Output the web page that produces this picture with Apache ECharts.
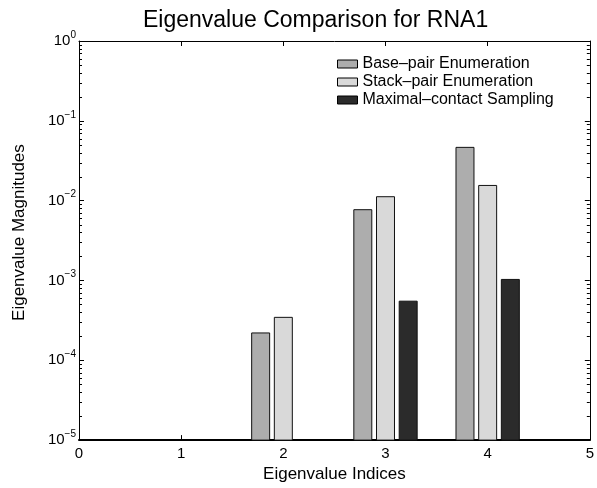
<!DOCTYPE html>
<html>
<head>
<meta charset="utf-8">
<style>
  html, body { margin: 0; padding: 0; background: #fff; }
  #chart { width: 597px; height: 488px; }
</style>
<script src="https://cdn.jsdelivr.net/npm/echarts@6/dist/echarts.min.js"></script>
</head>
<body>
<div id="chart"></div>
<script>
// Eigenvalue indices and magnitudes for each method (null = nothing to draw on the log scale)
const indices = [1, 2, 3, 4];
const basePair = [null, 2.2e-4, 7.7e-3, 4.65e-2];
const stackPair = [null, 3.45e-4, 1.12e-2, 1.55e-2];
const maxContact = [null, null, 5.5e-4, 1.03e-3];

const seriesNames = ['Base–pair Enumeration', 'Stack–pair Enumeration', 'Maximal–contact Sampling'];
const seriesColors = ['#adadad', '#d9d9d9', '#2b2b2b'];

const X_MIN = 0, X_MAX = 5, X_STEP = 1;
const Y_MIN = 1e-5, Y_MAX = 1;

// minor ticks at 2..9 within each decade
const yMinorTicks = [];
for (let d = -5; d < 0; d++) {
  for (let m = 2; m <= 9; m++) yMinorTicks.push(m * Math.pow(10, d));
}

// grouped-bar layout, as fractions of one index unit
const GROUP_STEP = 0.222;
const BAR_FRAC = 0.176;
const MINOR_LEN = 3;

const FONT = '"Liberation Sans", Arial, Helvetica, sans-serif';

function barRenderer(k) {
  return function (params, api) {
    const x = api.value(0);
    const v = api.value(1);
    const unit = api.size([1, 0], [x, v])[0];
    const top = api.coord([x, v]);
    const base = api.coord([x, Y_MIN]);
    const w = BAR_FRAC * unit;
    const cx = top[0] + (k - 1) * GROUP_STEP * unit;
    return {
      type: 'rect',
      shape: { x: cx - w / 2, y: top[1], width: w, height: base[1] - top[1] },
      style: { fill: seriesColors[k], stroke: '#111', lineWidth: 1 }
    };
  };
}

// short inward marks on both vertical sides of the plot box for the minor log ticks
function minorTickRenderer(params, api) {
  const v = api.value(1);
  const left = api.coord([X_MIN, v]);
  const right = api.coord([X_MAX, v]);
  const y = Math.round(left[1]) + 0.5;
  return {
    type: 'group',
    children: [
      { type: 'line', shape: { x1: left[0], y1: y, x2: left[0] + MINOR_LEN, y2: y }, style: { stroke: '#000', lineWidth: 1 } },
      { type: 'line', shape: { x1: right[0], y1: y, x2: right[0] - MINOR_LEN, y2: y }, style: { stroke: '#000', lineWidth: 1 } }
    ]
  };
}

function seriesData(values) {
  const out = [];
  indices.forEach((idx, i) => { if (values[i] != null) out.push([idx, values[i]]); });
  return out;
}

function expLabel(v) {
  const e = Math.round(Math.log10(v));
  return '{b|10}{e|' + (e === 0 ? '0' : '\u2212' + (-e)) + '}';
}

const chart = echarts.init(document.getElementById('chart'), null, { renderer: 'canvas' });

const barSeries = [basePair, stackPair, maxContact].map((vals, k) => ({
  name: seriesNames[k],
  type: 'custom',
  xAxisIndex: 0,
  yAxisIndex: 0,
  itemStyle: { color: seriesColors[k], borderColor: '#000', borderWidth: 1 },
  renderItem: barRenderer(k),
  encode: { x: 0, y: 1 },
  data: seriesData(vals)
}));

chart.setOption({
  animation: false,
  backgroundColor: '#fff',
  title: {
    text: 'Eigenvalue Comparison for RNA1',
    left: 143,
    top: 9,
    padding: 0,
    textStyle: { fontFamily: FONT, fontSize: 23, fontWeight: 'normal', color: '#000' }
  },
  legend: {
    orient: 'vertical',
    left: 337,
    top: 56,
    padding: 0,
    itemWidth: 20,
    itemHeight: 8,
    itemGap: 2,
    icon: 'rect',
    selectedMode: false,
    itemStyle: { borderColor: '#000', borderWidth: 1 },
    textStyle: { fontFamily: FONT, fontSize: 16, lineHeight: 16, color: '#000' },
    data: seriesNames
  },
  grid: { left: 79, right: 6, top: 41, bottom: 43, containLabel: false },
  xAxis: [
    {
      type: 'value', min: X_MIN, max: X_MAX, interval: X_STEP, position: 'bottom',
      name: 'Eigenvalue Indices', nameLocation: 'middle', nameGap: 25,
      nameTextStyle: { fontFamily: FONT, fontSize: 17, color: '#000' },
      axisLine: { show: true, onZero: false, lineStyle: { color: '#000', width: 2 } },
      axisTick: { show: true, inside: true, length: 5, lineStyle: { color: '#000', width: 1 } },
      axisLabel: { fontFamily: FONT, fontSize: 15, color: '#000', margin: 6 },
      splitLine: { show: false }
    },
    {
      type: 'value', min: X_MIN, max: X_MAX, interval: X_STEP, position: 'top',
      axisLine: { show: true, onZero: false, lineStyle: { color: '#000', width: 1 } },
      axisTick: { show: true, inside: true, length: 5, lineStyle: { color: '#000', width: 1 } },
      axisLabel: { show: false },
      splitLine: { show: false }
    }
  ],
  yAxis: [
    {
      type: 'log', logBase: 10, min: Y_MIN, max: Y_MAX, position: 'left',
      name: 'Eigenvalue Magnitudes', nameLocation: 'middle', nameGap: 51, nameRotate: 90,
      nameTextStyle: { fontFamily: FONT, fontSize: 17, color: '#000', padding: [0, 0, 0, 16] },
      axisLine: { show: true, onZero: false, lineStyle: { color: '#000', width: 1 } },
      axisTick: { show: true, inside: true, length: 5, lineStyle: { color: '#000', width: 1 } },
      axisLabel: {
        margin: 3,
        formatter: expLabel,
        rich: {
          b: { fontFamily: FONT, fontSize: 15, color: '#000', lineHeight: 22, verticalAlign: 'middle' },
          e: { fontFamily: FONT, fontSize: 10, color: '#000', lineHeight: 10, verticalAlign: 'top' }
        }
      },
      splitLine: { show: false }
    },
    {
      type: 'log', logBase: 10, min: Y_MIN, max: Y_MAX, position: 'right',
      axisLine: { show: true, onZero: false, lineStyle: { color: '#000', width: 1 } },
      axisTick: { show: true, inside: true, length: 5, lineStyle: { color: '#000', width: 1 } },
      axisLabel: { show: false },
      splitLine: { show: false }
    }
  ],
  series: barSeries.concat([{
    name: 'minor ticks',
    type: 'custom',
    xAxisIndex: 0,
    yAxisIndex: 0,
    silent: true,
    clip: false,
    renderItem: minorTickRenderer,
    encode: { x: 0, y: 1 },
    data: yMinorTicks.map(v => [X_MIN, v])
  }])
});
</script>
</body>
</html>
